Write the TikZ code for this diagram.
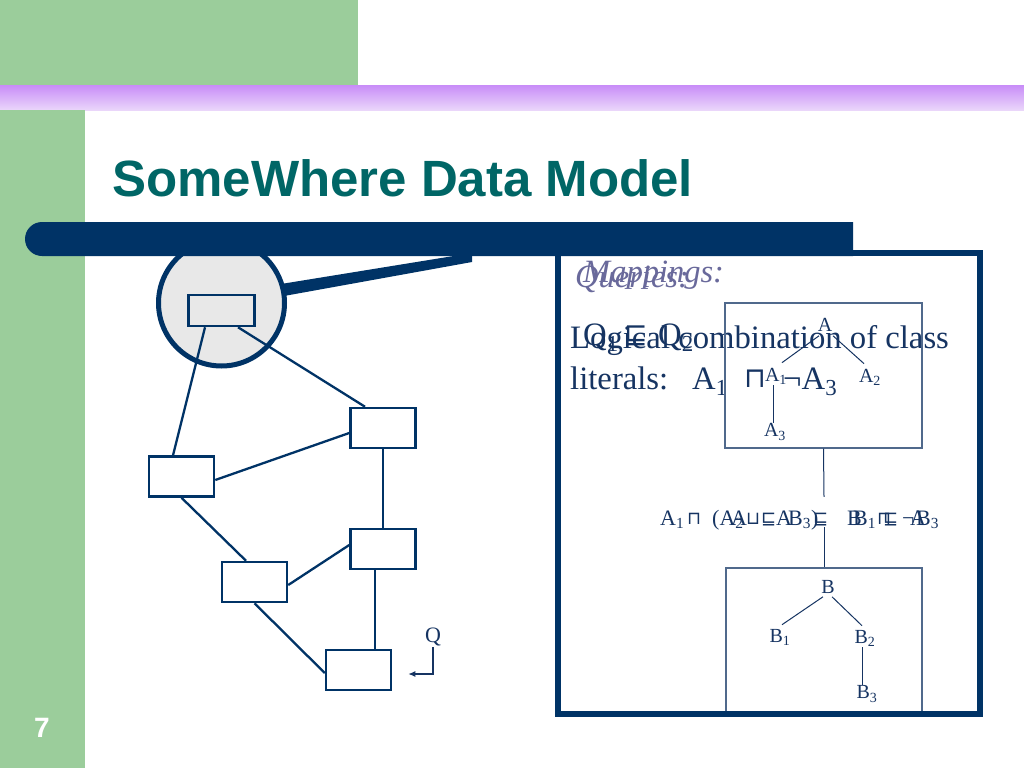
\documentclass[tikz,border=0pt]{standalone}
\usepackage{fontspec}
\setmainfont{Liberation Serif}
\newfontfamily\headf{Liberation Sans}
\newfontfamily\symf{DejaVu Sans}
\usetikzlibrary{arrows.meta}
\definecolor{sgreen}{RGB}{155,205,155}
\definecolor{navy}{RGB}{0,51,102}
\definecolor{tnavy}{RGB}{22,52,98}
\definecolor{teal}{RGB}{0,102,102}
\definecolor{ptop}{RGB}{200,140,248}
\definecolor{pbot}{RGB}{234,214,250}
\definecolor{lensc}{RGB}{232,232,232}
\definecolor{inbox}{RGB}{80,105,140}
\definecolor{mapc}{RGB}{105,105,155}
\begin{document}
\begin{tikzpicture}[x=1pt,y=-1pt,
  gbox/.style={draw=navy, line width=2.5pt, minimum width=65pt, minimum height=40pt, inner sep=0pt},
  glink/.style={draw=navy, line width=2.3pt},
  body/.style={text=tnavy, inner sep=0pt, anchor=base west, font=\fontsize{32.7}{38}\selectfont},
  symb/.style={text=tnavy, inner sep=0pt, anchor=base west, font=\symf\fontsize{28}{32}\selectfont},
  lab/.style={text=tnavy, inner sep=1pt, font=\fontsize{20}{24}\selectfont},
  tlink/.style={draw=tnavy, line width=1pt},
  frm/.style={text=tnavy, inner sep=0pt, anchor=base west, font=\fontsize{22}{26}\selectfont},
  fsym/.style={text=tnavy, inner sep=0pt, anchor=base west, font=\symf\fontsize{18}{20}\selectfont},
  inb/.style={draw=inbox, line width=1.2pt, inner sep=0pt},
]
\fill[white] (0,0) rectangle (1024,768);
\useasboundingbox (0,0) rectangle (1024,768);
% background bands
\fill[sgreen] (0,0) rectangle (358,85);
\shade[top color=ptop, bottom color=pbot] (0,85) rectangle (1024,110);
\fill[sgreen] (0,110) rectangle (85,768);
\node[anchor=base west, inner sep=0pt, text=teal, font=\headf\bfseries\fontsize{51}{60}\selectfont] (title) at (112,196) {SomeWhere Data Model};
\node[inner sep=0pt, text=white, font=\headf\bfseries\fontsize{28}{32}\selectfont] (pg) at (42,728) {7};

% right box texts
\node[body, text=mapc, font=\itshape\fontsize{32.5}{38}\selectfont] (map) at (583,282) {Mappings:};
\node[body, text=mapc, font=\itshape\fontsize{32.5}{38}\selectfont] (qry) at (575,287) {Queries:};
\node[body] (l1) at (570,348) {Logical combination of class};
\node[body] (l2) at (570,389) {literals:};
\node[body] (a1) at (692,389) {A\textsubscript{1}};
\node[symb] (cap1) at (744,387) {⊓};
\node[body] (na3) at (783,389) {¬A\textsubscript{3}};
\node[body] (q1) at (583,345) {Q\textsubscript{1}};
\node[symb] (sq) at (624,343) {⊑};
\node[body] (q2) at (658,345) {Q\textsubscript{2}};

% inner boxes
\node[inb, minimum width=197pt, minimum height=145pt] (bx1) at (823.5,375.5) {};
\node[inb, minimum width=196pt, minimum height=146pt] (bx2) at (824,641) {};

% tree A
\node[lab] (tA) at (825,325) {A};
\node[lab] (tA1) at (776,376) {A\textsubscript{1}};
\node[lab] (tA2) at (870,377) {A\textsubscript{2}};
\node[lab] (tA3) at (775,432) {A\textsubscript{3}};
\draw[tlink] ([xshift=-6pt,yshift=-3pt]tA.south) -- ([xshift=6pt,yshift=4pt]tA1.north);
\draw[tlink] ([xshift=8pt,yshift=-3pt]tA.south) -- ([xshift=-6pt,yshift=4pt]tA2.north);
\draw[tlink] ([xshift=-3pt]tA1.south) -- ([xshift=-2pt]tA3.north);

% tree B
\node[lab] (tB) at (828,587) {B};
\node[lab] (tB1) at (780,637) {B\textsubscript{1}};
\node[lab] (tB2) at (865,638) {B\textsubscript{2}};
\node[lab] (tB3) at (867,694) {B\textsubscript{3}};
\draw[tlink] ([xshift=-5pt,yshift=-2pt]tB.south) -- ([xshift=2pt,yshift=3pt]tB1.north);
\draw[tlink] ([xshift=4pt,yshift=-2pt]tB.south) -- ([xshift=-3pt,yshift=3pt]tB2.north);
\draw[tlink] ([xshift=-3pt]tB2.south) -- ([xshift=-5pt]tB3.north);

% mapping formula
\node[inner sep=0pt, minimum height=30pt, minimum width=1pt] (mp) at (824,512) {};
\draw[tlink] (bx1.south) -- (mp.north);
\draw[tlink] (mp.south) -- (bx2.north);
\node[frm] (f1) at (660,525) {A\textsubscript{1}};
\node[fsym] (f2) at (687,524) {⊓};
\node[frm] (f3) at (712,525) {(A\textsubscript{2}};
\node[fsym] (f4) at (746,524) {⊔};
\node[fsym] (f5) at (761,524) {⊑};
\node[frm] (f6) at (776,525) {A};
\node[frm] (f7) at (788,525) {B\textsubscript{3})};
\node[fsym] (f8) at (813,524) {⊑};
\node[frm] (f9) at (847,525) {B};
\node[frm] (f10) at (853,525) {B\textsubscript{1}};
\node[fsym] (f11) at (877,524) {⊓};
\node[fsym] (f12) at (883,524) {⊑};
\node[frm] (f13) at (902,525) {¬};
\node[frm] (f14) at (910,525) {A};
\node[frm] (f15) at (916,525) {B\textsubscript{3}};
\node[frm] (f16) at (731,525) {A};

% big framed box
\draw[navy, line width=6pt] (558,253) rectangle (980,714);

% lens circle, wedge, bar
\node[circle, draw=navy, line width=5pt, fill=lensc, minimum size=126pt, inner sep=0pt] (lens) at (221.5,303) {};
\fill[navy] (281,284) -- (472,253) -- (472,262) -- (284,296) -- cycle;
\fill[navy] (853,222) -- (42,222) arc[start angle=90, end angle=270, radius=17pt] -- (853,256) -- cycle;

% graph
\node[gbox, minimum width=66pt, minimum height=31pt] (r0) at (221.5,310.5) {};
\node[gbox] (r1) at (383,428) {};
\node[gbox] (r2) at (181.5,476.5) {};
\node[gbox] (r3) at (383,549) {};
\node[gbox] (r4) at (254.5,582) {};
\node[gbox] (r5) at (358.5,670) {};
\draw[glink] ([xshift=-16.5pt]r0.south) -- ([xshift=-8.5pt]r2.north);
\draw[glink] ([xshift=16.5pt]r0.south) -- ([xshift=-18pt]r1.north);
\draw[glink] ([yshift=-3.5pt]r2.east) -- ([yshift=-5pt]r1.west);
\draw[glink] (r1.south) -- (r3.north);
\draw[glink] (r2.south) -- ([xshift=-8.5pt]r4.north);
\draw[glink] ([yshift=-3pt]r4.east) -- ([yshift=4pt]r3.west);
\draw[glink] ([xshift=-8pt]r3.south) -- ([xshift=16.5pt]r5.north);
\draw[glink] (r4.south) -- ([yshift=-3pt]r5.west);

% query arrow
\node[text=tnavy, inner sep=1pt, font=\fontsize{22}{26}\selectfont] (q) at (433,637) {Q};
\draw[tnavy, line width=1.3pt, -{Latex[length=7pt,width=6pt]}] (q.south) |- ([xshift=16pt,yshift=-4pt]r5.east);
\end{tikzpicture}
\end{document}
